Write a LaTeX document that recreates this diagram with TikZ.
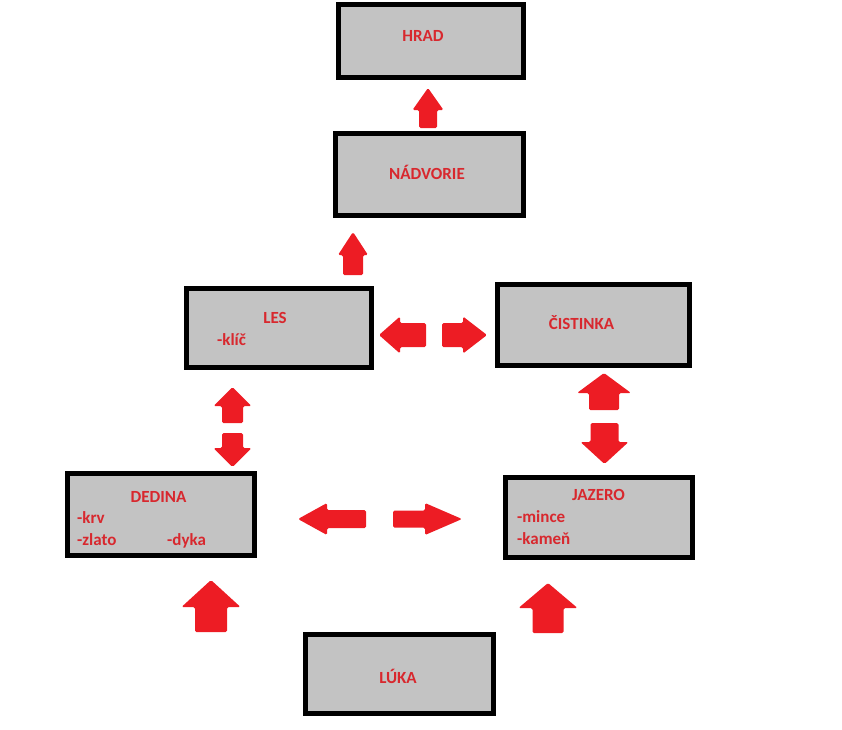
\documentclass[tikz,border=0pt]{standalone}
\usepackage{fontspec}
\setmainfont{Carlito}
\usetikzlibrary{calc}

\definecolor{boxgray}{RGB}{195,195,195}
\definecolor{arrowred}{RGB}{237,28,36}
\definecolor{labelred}{RGB}{216,40,46}

\tikzset{
  place/.style={draw=black, line width=5pt, fill=boxgray, inner sep=0pt},
  title/.style={text=labelred, font=\bfseries\fontsize{17}{17}\selectfont,
                anchor=base, inner sep=0pt},
  item/.style={title, anchor=base west},
  blockarrow/.style={fill=arrowred, rounded corners=1.5pt},
}

% Block arrow from tail #1 to tip #2: head length #3,
% half shaft width #4, half head width #5.
\newcommand\blockarrow[5]{%
  \coordinate (#2-base) at ($(#2)!#3!(#1)$);
  \fill[blockarrow]
    ($(#1)!#4!90:(#2)$) -- ($(#2-base)!#4!-90:(#1)$)
    -- ($(#2-base)!#5!-90:(#1)$) -- (#2)
    -- ($(#2-base)!#5!90:(#1)$) -- ($(#2-base)!#4!90:(#1)$)
    -- ($(#1)!#4!-90:(#2)$) -- cycle;
}

\begin{document}
\begin{tikzpicture}[x=1pt, y=-1pt]
  \useasboundingbox (0,0) rectangle (842,729);

  % places
  \node[place, minimum width=185pt, minimum height=73pt] (hrad) at (431,41) {};
  \node[place, minimum width=188pt, minimum height=82pt] (nadvorie) at (429.5,174.5) {};
  \node[place, minimum width=185pt, minimum height=79pt] (les) at (279,328) {};
  \node[place, minimum width=192pt, minimum height=81pt] (cistinka) at (593.5,325) {};
  \node[place, minimum width=187pt, minimum height=82pt] (dedina) at (161,514.5) {};
  \node[place, minimum width=187pt, minimum height=80pt] (jazero) at (599,517.5) {};
  \node[place, minimum width=188pt, minimum height=79pt] (luka) at (399.5,674) {};

  % labels and items
  \node[title] (hradT) at (423,41) {HRAD};
  \node[title] (nadvorieT) at (427,179) {NÁDVORIE};
  \node[title] (lesT) at (275,323) {LES};
  \node[item] (klic) at (217,345) {-klíč};
  \node[title] (cistinkaT) at (581.5,329) {ČISTINKA};
  \node[title] (dedinaT) at (158.5,502) {DEDINA};
  \node[item] (krv) at (77,523) {-krv};
  \node[item] (zlato) at (77,545) {-zlato};
  \node[item] (dyka) at (167,545) {-dyka};
  \node[title] (jazeroT) at (598.5,500) {JAZERO};
  \node[item] (mince) at (517,522) {-mince};
  \node[item] (kamen) at (517,544) {-kameň};
  \node[title] (lukaT) at (398,683) {LÚKA};

  % arrow end points
  \coordinate (toHradT) at (428,128);   \coordinate (toHrad) at (428,88);
  \coordinate (toNadT) at (353,275);    \coordinate (toNad) at (353,232);
  \coordinate (toLesT) at (426,335);    \coordinate (toLes) at (379,335);
  \coordinate (toCisT) at (442,335);    \coordinate (toCis) at (487,335);
  \coordinate (lesUpT) at (232.5,423);  \coordinate (lesUp) at (232.5,387);
  \coordinate (dedDnT) at (232.5,433);  \coordinate (dedDn) at (232.5,467);
  \coordinate (toDedT) at (366,519);    \coordinate (toDed) at (298,519);
  \coordinate (toJazT) at (393,519);    \coordinate (toJaz) at (462,519);
  \coordinate (cisUpT) at (604,410);    \coordinate (cisUp) at (604,373);
  \coordinate (jazDnT) at (604.5,423);  \coordinate (jazDn) at (604.5,464);
  \coordinate (lukLT) at (211,632);     \coordinate (lukL) at (211,580);
  \coordinate (lukRT) at (548,633);     \coordinate (lukR) at (548,583);

  % arrows
  \blockarrow{toHradT}{toHrad}{22pt}{9pt}{15.5pt}
  \blockarrow{toNadT}{toNad}{23pt}{10pt}{15pt}
  \blockarrow{toLesT}{toLes}{21pt}{12pt}{18.5pt}
  \blockarrow{toCisT}{toCis}{24pt}{12pt}{18.5pt}
  \blockarrow{lesUpT}{lesUp}{19pt}{10.5pt}{19pt}
  \blockarrow{dedDnT}{dedDn}{19pt}{10.5pt}{19pt}
  \blockarrow{toDedT}{toDed}{29pt}{9pt}{16pt}
  \blockarrow{toJazT}{toJaz}{37pt}{8.5pt}{16pt}
  \blockarrow{cisUpT}{cisUp}{20pt}{15pt}{27pt}
  \blockarrow{jazDnT}{jazDn}{22pt}{14pt}{24pt}
  \blockarrow{lukLT}{lukL}{27pt}{16pt}{29.5pt}
  \blockarrow{lukRT}{lukR}{25pt}{15.5pt}{29.5pt}
\end{tikzpicture}
\end{document}
